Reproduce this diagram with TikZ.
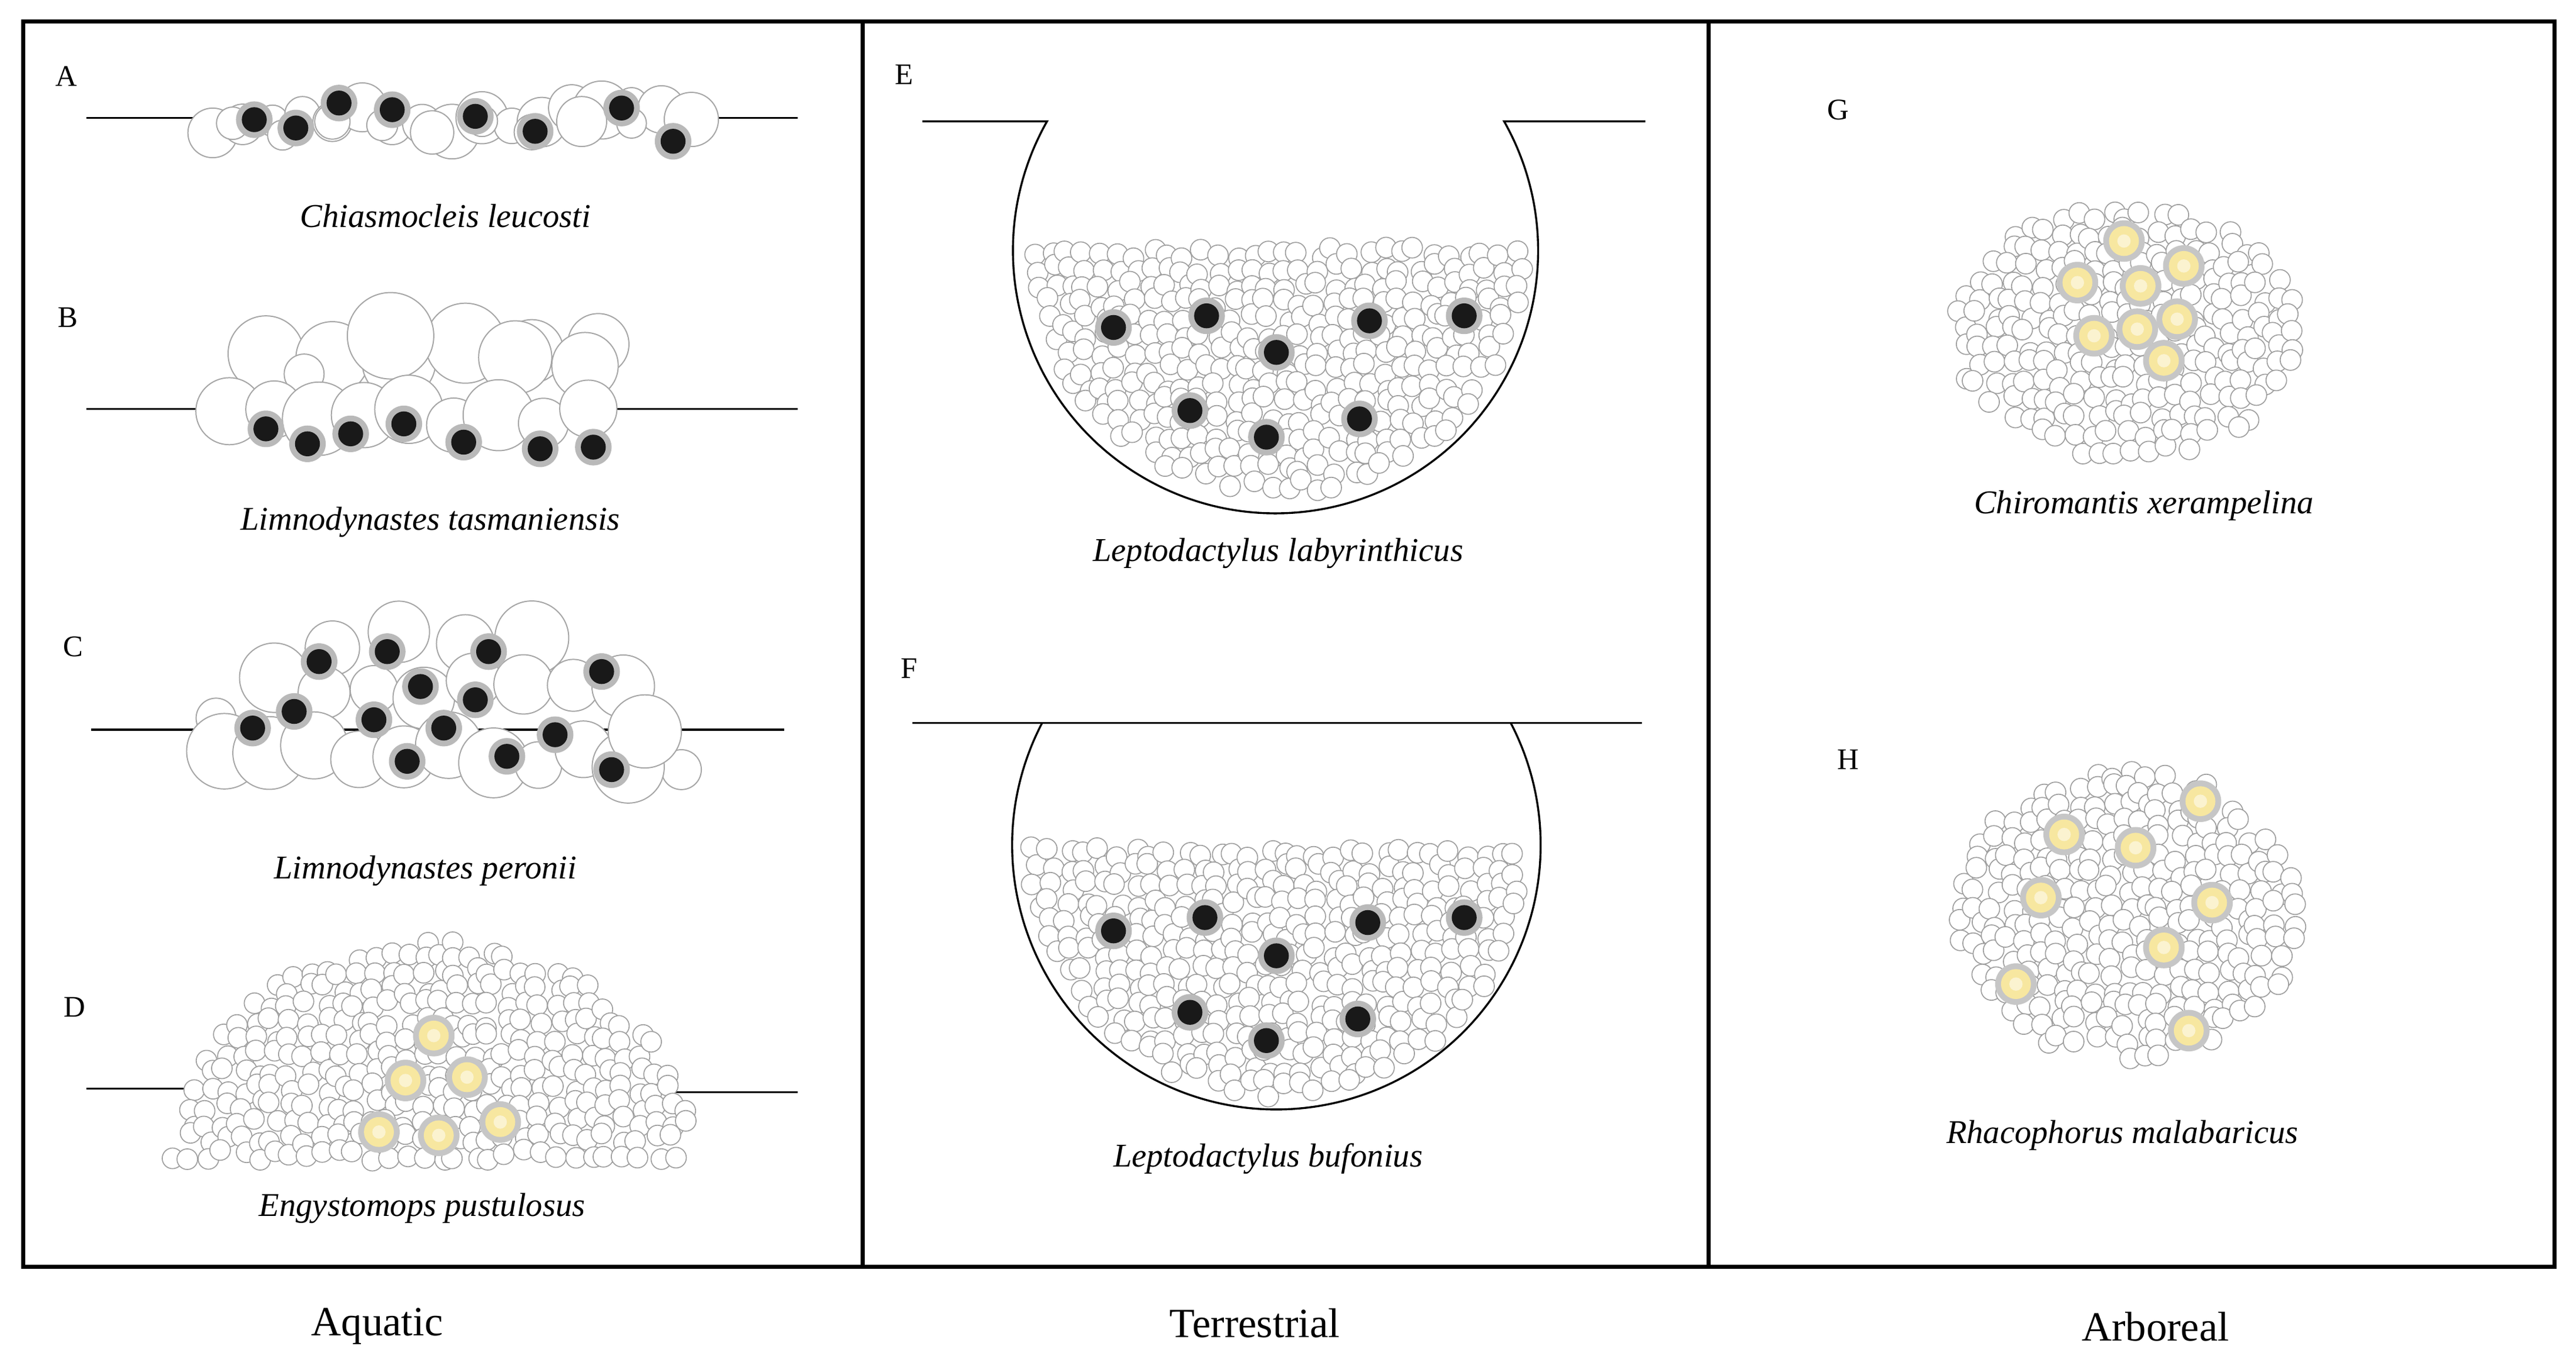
\documentclass[tikz,border=0pt]{standalone}
\usepackage{fontspec}
\setmainfont{Liberation Serif}
\definecolor{eggy}{HTML}{F7E7A0}
\tikzset{
 bub/.style={draw=gray!75,fill=white,line width=0.6pt},
 big/.style={draw=gray!70,fill=white,line width=0.7pt},
 captext/.style={font=\fontsize{20}{24}\selectfont\itshape},
 lab/.style={font=\fontsize{18}{22}\selectfont},
 hab/.style={font=\fontsize{25}{30}\selectfont},
 gl/.style={line width=1.2pt}
}
\newcommand\bubfill[3]{\foreach \gx in {#1}{\foreach \gy in {#2}{%
 \pgfmathsetmacro\xx{\gx+rand*3.5}\pgfmathsetmacro\yy{\gy+rand*3.5}%
 \pgfmathtruncatemacro\ok{#3}\ifnum\ok=1 \draw[bub] (\xx,\yy) circle (6.2pt);\fi}}}
\newcommand\blk[1]{\foreach \p in {#1}{\fill[gray!55] \p circle (11pt); \fill[black!90] \p circle (7.5pt);}}
\newcommand\yel[1]{\foreach \p in {#1}{\fill[gray!45] \p circle (12.5pt); \fill[eggy] \p circle (9pt);\fill[eggy!50!white] \p circle (4pt);}}
\begin{document}
\begin{tikzpicture}[x=1pt,y=-1pt]
\pgfmathsetseed{11}
\useasboundingbox (0,0) rectangle (1550,818);
\fill[white] (0,0) rectangle (1550,818);
% frame
\draw[line width=2.5pt] (14,13) rectangle (1537,762);
\draw[line width=2.5pt] (519,13) -- (519,762) (1028,13) -- (1028,762);
\node[hab] (aq) at (227,798) {Aquatic};
\node[hab] (te) at (755,796) {Terrestrial};
\node[hab] (ar) at (1297,798) {Arboreal};
% A
\node[lab] (la) at (40,46) {A};
\draw[gl] (52,71) -- (480,71);
\foreach \x in {128,146,...,416}{\pgfmathsetmacro\r{9+rnd*9}\pgfmathsetmacro\yy{71+(rnd-0.5)*20}\draw[big] (\x,\yy) circle (\r pt);}
\foreach \x in {140,170,...,400}{\pgfmathsetmacro\r{8+rnd*8}\pgfmathsetmacro\yy{80+(rnd-0.5)*16}\draw[big] (\x,\yy) circle (\r pt);}
\blk{(153,72),(178,77),(204,62),(236,66),(286,70),(322,79),(374,65),(405,85)}
\node[captext] (ca) at (268,130) {Chiasmocleis leucosti};
% B
\node[lab] (lb) at (41,191) {B};
\draw[gl] (52,246) -- (480,246);
\foreach \x in {160,200,...,360}{\pgfmathsetmacro\r{16+rnd*10}\pgfmathsetmacro\yy{212+(rnd-0.5)*20}\draw[big] (\x,\yy) circle (\r pt);}
\draw[big] (235,202) circle (26pt) (310,215) circle (22pt) (352,220) circle (20pt) (183,225) circle (12pt);
\foreach \x in {138,165,...,380}{\pgfmathsetmacro\r{15+rnd*9}\pgfmathsetmacro\yy{250+(rnd-0.5)*14}\draw[big] (\x,\yy) circle (\r pt);}
\blk{(160,258),(185,267),(211,261),(243,255),(279,266),(325,270),(357,269)}
\node[captext] (cb) at (259,314) {Limnodynastes tasmaniensis};
% C
\node[lab] (lc) at (44,389) {C};
\draw[gl] (55,439) -- (472,439);
\draw[big] (130,432) circle (12pt) (410,463) circle (12pt);
\foreach \x in {200,240,...,330}{\pgfmathsetmacro\r{16+rnd*8}\pgfmathsetmacro\yy{385+(rnd-0.5)*16}\draw[big] (\x,\yy) circle (\r pt);}
\foreach \x in {165,195,...,380}{\pgfmathsetmacro\r{14+rnd*8}\pgfmathsetmacro\yy{415+(rnd-0.5)*16}\draw[big] (\x,\yy) circle (\r pt);}
\foreach \x in {135,162,...,400}{\pgfmathsetmacro\r{14+rnd*9}\pgfmathsetmacro\yy{455+(rnd-0.5)*14}\draw[big] (\x,\yy) circle (\r pt);}
\draw[big] (388,440) circle (22pt);
\blk{(192,398),(233,392),(294,392),(362,404),(253,413),(286,421),(152,438),(177,428),(225,433),(267,438),(334,442),(245,458),(305,455),(368,463)}
\node[captext] (cc) at (256,524) {Limnodynastes peronii};
% D
\node[lab] (ld) at (45,606) {D};
\draw[gl] (52,655) -- (115,655) (405,657) -- (480,657);
\bubfill{105,115,...,415}{565,575,...,695}{(((\xx-260)/157)^2+((\yy-698)/132)^2<1)}
\yel{(261,623),(244,650),(281,648),(228,681),(264,683),(301,675)}
\node[captext] (cd) at (254,727) {Engystomops pustulosus};
% E
\node[lab] (le) at (544,45) {E};
\draw[gl] (555,73) -- (630,73) arc[start angle=150.5,end angle=389.5,radius=158pt] -- (990,73);
\bubfill{613,623,...,925}{152,162,...,302}{(((\xx-769)/151)^2+((\yy-147)/151)^2<1)}
\blk{(670,197),(726,190),(768,212),(824,193),(881,190),(716,247),(762,263),(818,252)}
\node[captext] (ce) at (769,333) {Leptodactylus labyrinthicus};
% F
\node[lab] (lf) at (547,402) {F};
\draw[gl] (549,435) -- (988,435);
\draw[gl] (627,435) arc[start angle=152.5,end angle=387.5,radius=159pt];
\bubfill{613,623,...,925}{513,523,...,663}{(((\xx-769)/152)^2+((\yy-508)/152)^2<1)}
\blk{(670,560),(725,552),(768,575),(823,555),(881,552),(716,609),(762,626),(817,613)}
\node[captext] (cf) at (763,697) {Leptodactylus bufonius};
% G
\node[lab] (lg) at (1106,66) {G};
\bubfill{1170,1180,...,1390}{120,130,...,280}{(((\xx-1280)/104)^2+((\yy-200)/76)^2<1)}
\yel{(1278,145),(1250,170),(1288,172),(1314,160),(1260,202),(1286,198),(1310,192),(1302,217)}
\node[captext] (cg) at (1290,304) {Chiromantis xerampelina};
% H
\node[lab] (lh) at (1112,457) {H};
\bubfill{1170,1180,...,1390}{455,465,...,645}{(((\xx-1280)/104)^2+((\yy-550)/88)^2<1)}
\yel{(1324,482),(1242,502),(1285,510),(1228,540),(1331,543),(1302,570),(1213,592),(1317,620)}
\node[captext] (ch) at (1277,683) {Rhacophorus malabaricus};
\end{tikzpicture}
\end{document}
